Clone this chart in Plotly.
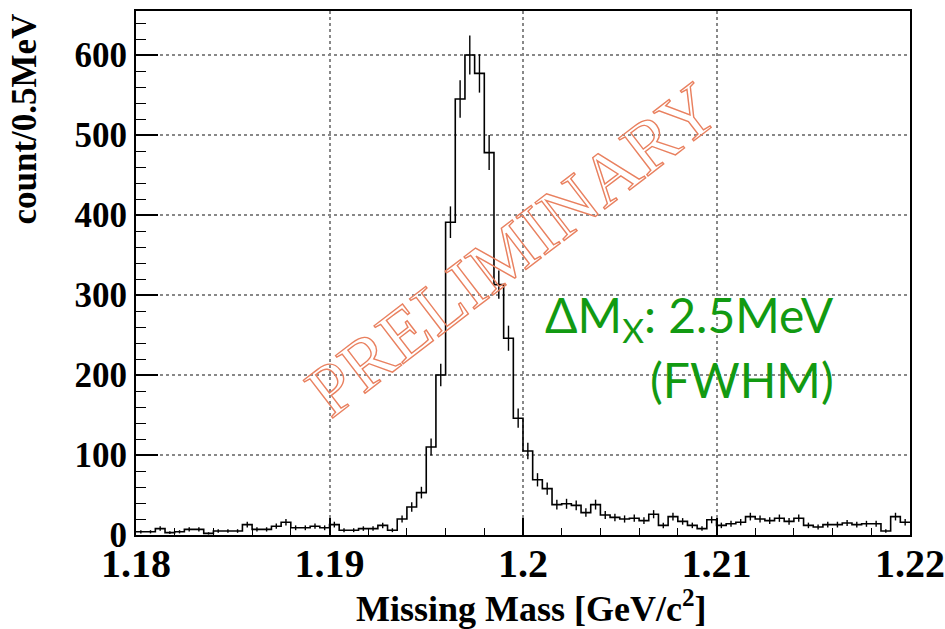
import numpy as np
import plotly.graph_objects as go

# ---- data ----
bin_lo = 1.18
bin_width = 0.0005
counts = [4, 4, 8, 3, 4, 7, 7, 2, 5, 5,
          5, 13, 7, 7, 11, 16, 9, 9, 11, 9,
          13, 6, 6, 8, 8, 12, 6, 20, 35, 53,
          110, 200, 391, 545, 600, 577, 478, 313, 246, 146,
          105, 69, 58, 38, 39, 37, 28, 38, 25, 22,
          20, 21, 18, 26, 12, 23, 17, 12, 8, 19,
          12, 14, 16, 23, 20, 18, 21, 17, 21, 12,
          10, 13, 13, 15, 13, 14, 14, 5, 23, 16]
x_ticks = [1.18, 1.19, 1.20, 1.21, 1.22]
x_tick_text = ["1.18", "1.19", "1.2", "1.21", "1.22"]
y_ticks = [0, 100, 200, 300, 400, 500, 600]
x_title = "Missing Mass [GeV/c<sup>2</sup>]"
y_title = "count/0.5MeV"
watermark = "PRELIMINARY"
note1 = "ΔM<sub>X</sub>: 2.5MeV"
note2 = "(FWHM)"

n = len(counts)
edges = bin_lo + bin_width * np.arange(n + 1)
centers = bin_lo + bin_width * (np.arange(n) + 0.5)
cnt = np.array(counts, dtype=float)
errs = np.sqrt(cnt)

fig = go.Figure()
fig.add_trace(go.Scatter(
    x=edges, y=np.append(cnt, cnt[-1]), mode="lines", line_shape="hv",
    line=dict(color="black", width=1.6), hoverinfo="skip", showlegend=False))
fig.add_trace(go.Scatter(
    x=centers, y=cnt, mode="markers", marker=dict(size=0.1, color="black"),
    error_y=dict(type="data", array=errs, color="black", thickness=1.4, width=0),
    showlegend=False))

W, H = 945, 629
ml, mr, mt, mb = 135.5, 34.5, 11, 93.7
pw, ph = W - ml - mr, H - mt - mb

def px(xp):
    return (xp - ml) / pw

def py(yp):
    return (H - mb - yp) / ph

serif = "Liberation Serif"
fig.update_layout(
    width=W, height=H, margin=dict(l=ml, r=mr, t=mt, b=mb),
    paper_bgcolor="white", plot_bgcolor="white",
    showlegend=False,
    xaxis=dict(range=[1.18, 1.22], tickvals=x_ticks, ticktext=x_tick_text,
               automargin=False,
               ticks="inside", ticklen=17, tickwidth=1.5, tickcolor="black",
               minor=dict(dtick=0.002, tick0=1.18, ticks="inside", ticklen=7,
                          tickwidth=1.2, tickcolor="black", showgrid=False),
               showline=True, linewidth=2, linecolor="black", mirror=True,
               showgrid=True, gridcolor="#888888", griddash="dot", gridwidth=1.5,
               zeroline=False, ticklabelstandoff=-8,
               tickfont=dict(family=serif, size=40, color="black", weight="bold")),
    yaxis=dict(range=[0, 655], tickvals=y_ticks, automargin=False,
               ticks="inside", ticklen=22, tickwidth=1.5, tickcolor="black",
               minor=dict(dtick=20, tick0=0, ticks="inside", ticklen=10,
                          tickwidth=1.2, tickcolor="black", showgrid=False),
               showline=True, linewidth=2, linecolor="black", mirror=True,
               showgrid=True, gridcolor="#888888", griddash="dot", gridwidth=1.5,
               zeroline=False,
               tickfont=dict(family=serif, size=35, color="black", weight="bold")),
)

fig.add_annotation(text=x_title, xref="paper", yref="paper", x=px(532), y=py(607),
                   showarrow=False, xanchor="center", yanchor="middle",
                   font=dict(family=serif, size=36, color="black", weight="bold"))
fig.add_annotation(text=y_title, xref="paper", yref="paper", x=px(24), y=py(119),
                   showarrow=False, xanchor="center", yanchor="middle", textangle=-90,
                   font=dict(family=serif, size=35, color="black", weight="bold"))
fig.add_annotation(text=watermark, xref="paper", yref="paper", x=px(512), y=py(250),
                   showarrow=False, xanchor="center", yanchor="middle", textangle=-37.5,
                   font=dict(family=serif, size=73, color="#E9805F"))
fig.add_annotation(text=note1, xref="paper", yref="paper", x=px(836), y=py(318),
                   showarrow=False, xanchor="right", yanchor="middle",
                   font=dict(family="Lato", size=48, color="#129A12"))
fig.add_annotation(text=note2, xref="paper", yref="paper", x=px(836), y=py(380),
                   showarrow=False, xanchor="right", yanchor="middle",
                   font=dict(family="Lato", size=48, color="#129A12"))

post = """
document.querySelectorAll('text.annotation-text').forEach(function(t){
  if (t.textContent.indexOf('PRELIMINARY') >= 0) {
    t.style.fill = 'none';
    t.style.stroke = '#E9805F';
    t.style.strokeWidth = '1.4px';
  }
});
"""
fig.write_html("out.html", post_script=post)
